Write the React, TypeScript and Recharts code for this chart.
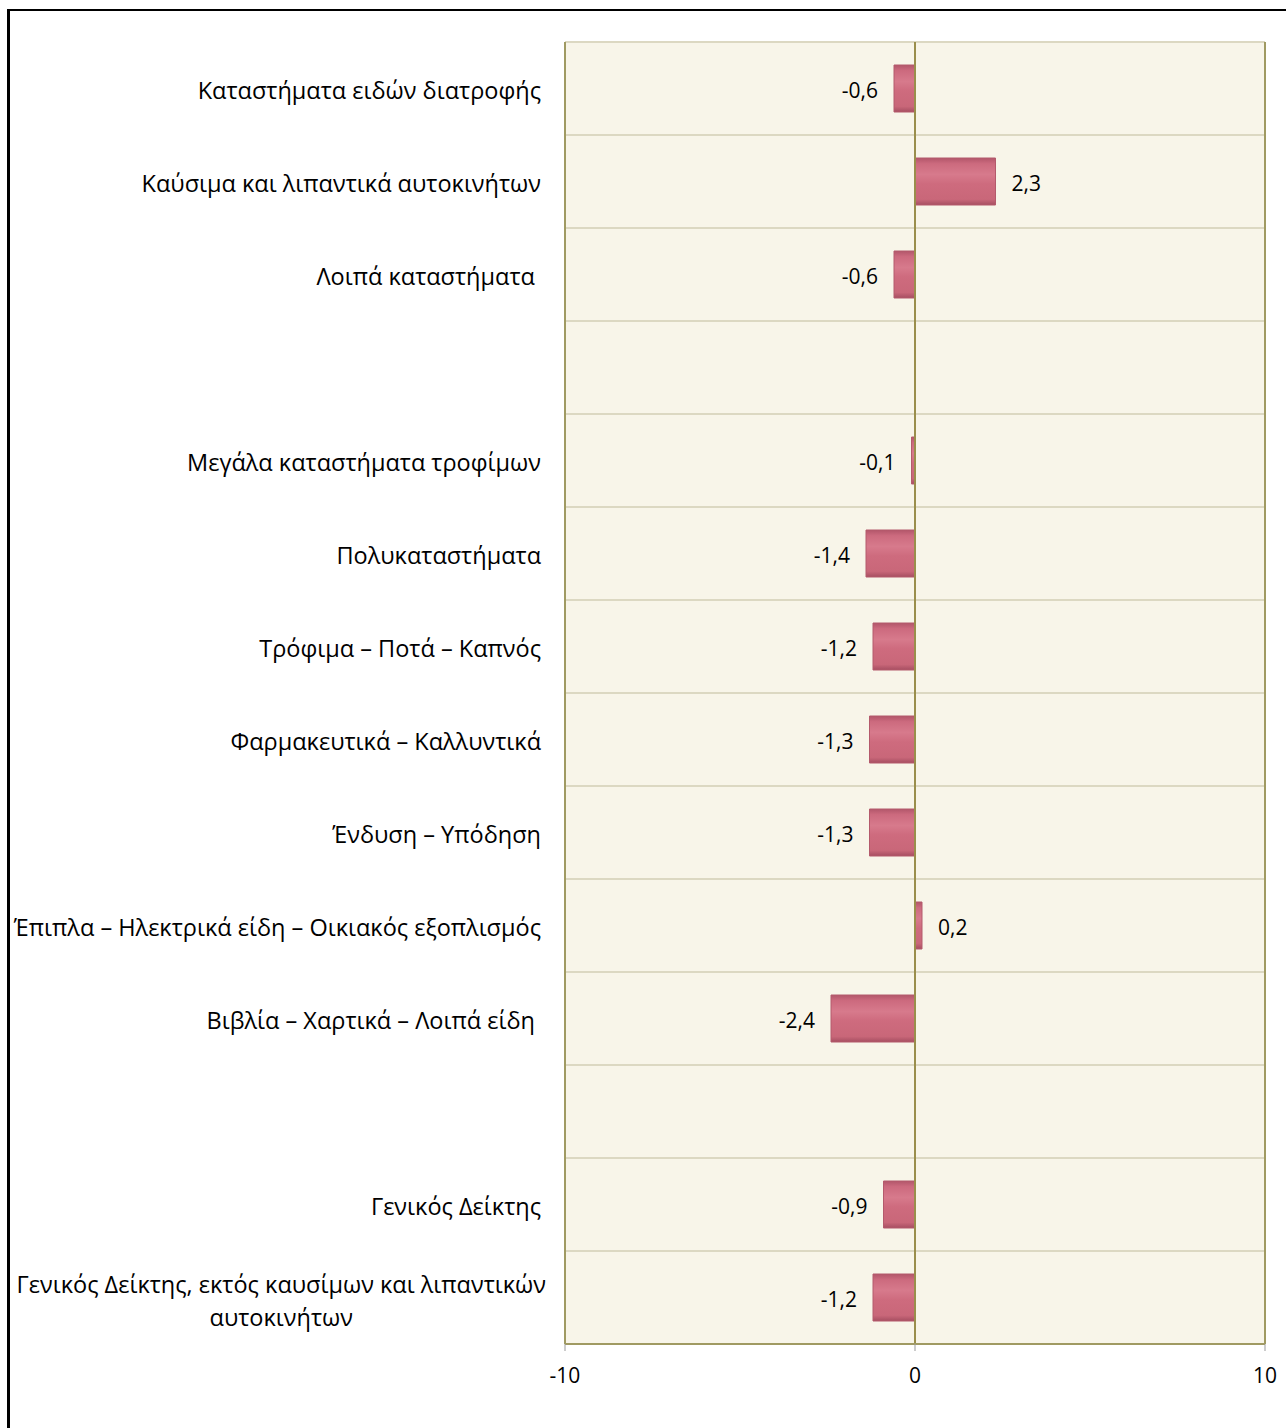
import React from "react";
import {
  BarChart,
  Bar,
  XAxis,
  YAxis,
  CartesianGrid,
  ReferenceLine,
  LabelList,
} from "recharts";

const categories = [
  "Καταστήματα ειδών διατροφής",
  "Καύσιμα και λιπαντικά αυτοκινήτων",
  "Λοιπά καταστήματα ",
  "",
  "Μεγάλα καταστήματα τροφίμων",
  "Πολυκαταστήματα",
  "Τρόφιμα – Ποτά – Καπνός",
  "Φαρμακευτικά – Καλλυντικά",
  "Ένδυση – Υπόδηση",
  "Έπιπλα – Ηλεκτρικά είδη – Οικιακός εξοπλισμός",
  "Βιβλία – Χαρτικά – Λοιπά είδη ",
  "",
  "Γενικός Δείκτης",
  "Γενικός Δείκτης, εκτός καυσίμων και λιπαντικών\nαυτοκινήτων",
];

const changes: (number | null)[] = [
  -0.6, 2.3, -0.6, null, -0.1, -1.4, -1.2, -1.3, -1.3, 0.2, -2.4, null, -0.9, -1.2,
];

const xTicks = [-10, 0, 10];

const data = categories.map((name, i) => ({ name, value: changes[i] }));

const FONT = "'Open Sans', sans-serif";
const OLIVE = "#a09a62";
const CAT_SIZE = 23.5;
const VAL_SIZE = 21;

let measureCtx: CanvasRenderingContext2D | null = null;
function textWidth(s: string, size: number) {
  if (!measureCtx) measureCtx = document.createElement("canvas").getContext("2d");
  if (!measureCtx) return s.length * size * 0.5;
  measureCtx.font = `${size}px ${FONT}`;
  return measureCtx.measureText(s).width;
}

const CategoryTick = (props: any) => {
  const { x, y, payload } = props;
  const lines = String(payload.value).split("\n");
  if (lines.length === 1) {
    return (
      <text
        x={x - 16}
        y={y}
        dy={10}
        textAnchor="end"
        fontSize={CAT_SIZE}
        fontFamily={FONT}
        fill="#000"
        style={{ whiteSpace: "pre" }}
      >
        {lines[0]}
      </text>
    );
  }
  const w = textWidth(lines[0], CAT_SIZE);
  const right = x - 11;
  return (
    <text fontSize={CAT_SIZE} fontFamily={FONT} fill="#000" textAnchor="middle">
      {lines.map((l, i) => (
        <tspan key={i} x={right - w / 2} y={y - 14 + i * 33} dy={9}>
          {l}
        </tspan>
      ))}
    </text>
  );
};

const ValueLabel = (props: any) => {
  const { x, y, width, height, value } = props;
  if (value == null) return null;
  const left = Math.min(x, x + width);
  const right = Math.max(x, x + width);
  const neg = value < 0;
  return (
    <text
      x={neg ? left - 16 : right + 16}
      y={y + height / 2}
      dy={9}
      textAnchor={neg ? "end" : "start"}
      fontSize={VAL_SIZE}
      fontFamily={FONT}
      fill="#000"
    >
      {String(value).replace(".", ",")}
    </text>
  );
};

export default function App() {
  const n = categories.length;
  return (
    <div
      style={{
        position: "absolute",
        left: 0,
        top: 0,
        width: 1286,
        height: 1428,
        background: "#fff",
        overflow: "hidden",
      }}
    >
      <div
        style={{
          position: "absolute",
          left: 7,
          top: 9,
          width: 1400,
          height: 1500,
          borderLeft: "3px solid #000",
          borderTop: "2px solid #000",
        }}
      />
      <div style={{ position: "absolute", left: 0, top: 0 }}>
        <BarChart
          width={1286}
          height={1428}
          data={data}
          layout="vertical"
          margin={{ top: 42, right: 21, bottom: 24, left: 0 }}
          barSize={47}
        >
          <defs>
            <linearGradient id="barFill" x1="0" y1="0" x2="0" y2="1">
              <stop offset="0%" stopColor="#b2566a" />
              <stop offset="12%" stopColor="#cc6a7e" />
              <stop offset="35%" stopColor="#d77a8c" />
              <stop offset="55%" stopColor="#ce6b7e" />
              <stop offset="88%" stopColor="#c96779" />
              <stop offset="100%" stopColor="#a64e61" />
            </linearGradient>
          </defs>
          <CartesianGrid
            fill="#f8f5e9"
            stroke="#dcd8c2"
            strokeWidth={2}
            vertical={false}
            horizontalCoordinatesGenerator={({ offset }: any) =>
              Array.from({ length: n }, (_, i) => offset.top + (i * offset.height) / n)
            }
          />
          <CartesianGrid
            horizontal={false}
            stroke={OLIVE}
            strokeWidth={2}
            verticalCoordinatesGenerator={({ offset }: any) => [
              offset.left + offset.width,
            ]}
          />
          <XAxis
            type="number"
            domain={[-10, 10]}
            ticks={xTicks}
            height={60}
            axisLine={{ stroke: OLIVE, strokeWidth: 2 }}
            tickLine={{ stroke: "#999", strokeWidth: 1 }}
            tickSize={7}
            tick={{ fontSize: VAL_SIZE, fontFamily: FONT, fill: "#000", dy: 15 }}
          />
          <YAxis
            type="category"
            dataKey="name"
            width={565}
            axisLine={{ stroke: OLIVE, strokeWidth: 2 }}
            tickLine={false}
            interval={0}
            tick={<CategoryTick />}
          />
          <Bar
            dataKey="value"
            fill="url(#barFill)"
            stroke="#b45a6c"
            strokeWidth={1}
            isAnimationActive={false}
          >
            <LabelList dataKey="value" content={<ValueLabel />} />
          </Bar>
          <ReferenceLine x={0} stroke="#9a8e4c" strokeWidth={2} />
        </BarChart>
      </div>
    </div>
  );
}
